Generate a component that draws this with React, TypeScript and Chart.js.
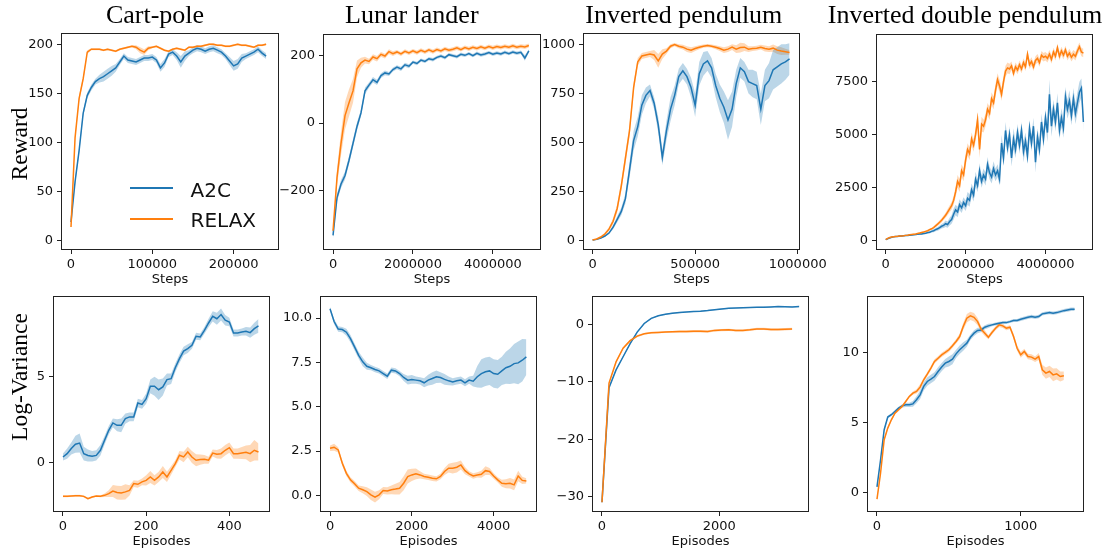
import React, { useEffect, useRef } from "react";
import { Chart, registerables } from "chart.js";

Chart.register(...registerables);

const BLUE = "#1f77b4";
const ORANGE = "#ff7f0e";
const BLUE_FILL = "rgba(31,119,180,0.3)";
const ORANGE_FILL = "rgba(255,127,14,0.3)";
const SANS = "'DejaVu Sans', sans-serif";
const SERIF = "'Liberation Serif', 'DejaVu Serif', serif";

const TITLES = ["Cart-pole", "Lunar lander", "Inverted pendulum", "Inverted double pendulum"];
const ROW_LABELS = ["Reward", "Log-Variance"];
const SERIES = ["A2C", "RELAX"];

// ---------- Cart-pole reward (x step 5000 steps)
const CART_R_DX = 5000;
const cartRewardA2C = [19,60,92,130,148,156,162,165,167,170,173,176,182,188,184,183,182,184,186,186,187,184,176,181,190,192,188,182,188,191,194,196,195,193,195,196,194,192,188,183,178,180,186,188,190,192,195,191,188];
const cartRewardA2CBand = [1,3,3,3,3,3,3,4,5,5,5,4,3,3,3,3,3,3,3,3,3,3,4,4,3,3,4,6,5,3,3,3,3,3,3,3,3,3,3,4,5,5,4,3,3,3,3,3,3];
const cartRewardRelax = [14,105,145,165,192,195,195,195,194,195,194,193,195,196,197,198,197,194,192,196,197,198,196,194,193,195,196,195,194,197,197,198,198,199,200,200,199,199,198,198,199,200,199,199,198,197,199,199,200];
const cartRewardRelaxBand = [1,3,3,3,2,1,1,1,1,1,1,1,1,1,1,1,2,3,3,2,1,1,1,1,1,1,1,1,1,1,1,1,1,1,1,1,1,1,1,1,1,1,1,1,1,1,1,1,1];

// ---------- Lunar lander reward (x step 100000 steps)
const LUNAR_R_DX = 100000;
const lunarRewardA2C = [-332,-220,-180,-155,-110,-60,-10,30,95,112,128,120,140,148,145,158,165,160,172,168,180,176,186,182,190,187,194,198,193,202,199,196,203,200,205,199,206,201,204,208,203,207,204,209,205,210,206,209,192,213];
const lunarRewardA2CBand = [8,12,12,12,12,12,12,10,10,8,8,8,7,7,6,6,6,6,6,6,5,5,5,5,5,5,5,5,5,5,5,5,5,5,5,5,5,5,5,5,5,5,5,5,5,5,5,5,8,5];
const lunarRewardRelax = [-318,-160,-60,22,60,95,160,178,186,182,195,190,203,198,211,205,210,204,212,207,213,208,215,210,216,211,217,213,219,215,218,222,217,223,219,224,220,225,221,226,222,226,223,227,224,228,224,227,225,229];
const lunarRewardRelaxBand = [5,25,35,40,40,35,25,15,10,8,8,8,7,7,7,7,6,6,6,6,6,6,6,6,6,6,6,6,6,6,6,6,6,6,6,6,6,6,6,6,6,6,6,6,6,6,6,6,6,6];

// ---------- Inverted pendulum reward (x step 20000 steps)
const PEND_R_DX = 20000;
const pendRewardA2C = [5,8,15,25,40,70,110,150,215,360,510,580,690,740,765,700,590,425,560,670,740,835,865,835,780,690,850,900,915,880,790,725,680,615,670,800,880,860,810,800,790,670,790,815,870,885,900,910,925];
const pendRewardA2CBand = [3,3,3,5,5,10,15,20,25,40,50,50,50,40,30,30,40,40,50,60,50,40,40,40,50,60,60,60,50,50,60,70,80,100,90,70,50,50,60,70,70,80,80,90,100,100,100,90,80];
const pendRewardRelax = [5,10,20,35,60,100,165,280,420,560,780,910,940,945,950,945,915,950,965,990,998,990,985,975,970,978,985,990,993,990,985,978,970,975,985,975,983,985,975,978,980,985,978,975,980,970,965,962,958];
const pendRewardRelaxBand = [3,3,5,8,10,15,20,25,30,30,25,20,15,15,15,25,35,25,15,10,8,10,12,15,15,12,10,8,8,8,10,12,15,15,15,20,25,20,15,12,12,12,15,15,18,20,20,15,12];

// ---------- Inverted double pendulum reward (x step 50000 steps)
const DPEND_R_DX = 50000;
const dpendRewardA2C = [50,90,130,160,180,195,200,215,220,230,240,245,255,265,275,285,300,310,320,335,350,380,400,440,470,520,560,620,680,720,800,760,900,1000,1250,1450,1350,1700,1550,1800,1650,2000,1900,2400,2150,2900,2600,3300,2800,3100,2900,3600,3200,3000,3400,3100,3300,2900,4600,3900,5200,4400,5000,3900,4800,4300,5100,4500,5200,4200,4700,4000,5300,4600,5400,3700,4900,4300,5600,4800,5800,5100,6900,5400,6200,5600,6500,5200,5800,5300,6800,6200,6600,5900,6700,6000,6500,7000,7200,5600];
const dpendRewardA2CBand = [20,20,20,20,20,20,25,25,25,25,30,30,30,30,30,35,35,40,40,40,50,50,60,60,70,80,90,100,110,120,150,150,180,200,250,250,250,250,250,250,250,300,300,300,300,350,300,350,300,300,300,350,300,300,350,300,300,300,400,400,400,400,400,400,500,400,400,400,400,500,400,400,400,400,400,500,400,400,400,450,400,450,700,500,450,450,450,400,450,450,450,450,500,450,500,500,500,500,450,450];
const dpendRewardRelax = [50,110,150,175,190,200,205,215,225,235,250,260,275,290,305,320,340,360,385,410,440,470,520,560,620,700,780,870,960,1080,1200,1350,1500,1650,1900,2300,2800,2600,3300,3100,3800,4300,4100,4800,4500,5000,5700,4300,5500,5400,5700,6200,6000,6700,6500,7100,7600,7300,6900,7500,8000,8150,8100,8250,7900,8200,8050,8300,8100,8400,8200,8800,8300,8450,8200,8500,8600,8400,8750,8650,8700,8600,8800,8550,8900,8700,9100,8700,8950,8750,9000,8700,8850,8650,8800,8700,8950,9150,8900,8850];
const dpendRewardRelaxBand = [20,20,20,20,20,20,25,25,25,25,30,30,30,30,30,35,35,40,40,40,45,45,50,55,60,70,80,90,100,110,120,140,160,180,200,250,300,300,300,300,300,300,300,300,300,300,350,400,350,300,300,300,300,300,300,300,300,300,300,300,250,250,250,200,200,200,200,200,200,200,200,200,200,200,200,200,200,200,200,200,200,200,200,200,200,200,200,200,200,200,200,200,200,200,200,200,200,200,200,200];

// ---------- Cart-pole log-variance (x step 10 episodes)
const CART_V_DX = 10;
const cartVarA2C = [0.31,0.5,0.8,1.05,1.12,0.5,0.4,0.35,0.4,0.7,1.28,1.86,2.29,2.15,2.15,2.54,2.64,2.64,3.45,3.37,3.7,4.42,4.42,4.22,4.38,4.81,4.86,5.5,6.03,6.47,6.61,6.8,7.33,7.29,7.67,8.1,8.49,8.35,8.59,8.26,8.16,7.52,7.52,7.58,7.62,7.54,7.77,7.93];
const cartVarA2CBand = [0.2,0.3,0.35,0.5,0.55,0.4,0.35,0.3,0.3,0.3,0.25,0.25,0.25,0.35,0.4,0.3,0.25,0.25,0.25,0.25,0.3,0.4,0.55,0.6,0.5,0.35,0.3,0.25,0.25,0.25,0.25,0.2,0.2,0.2,0.2,0.25,0.3,0.35,0.35,0.3,0.25,0.2,0.2,0.2,0.25,0.3,0.35,0.4];
const cartVarRelax = [-1.98,-1.98,-1.96,-1.94,-1.94,-1.98,-2.11,-2.02,-1.96,-1.98,-1.92,-1.82,-1.67,-1.76,-1.78,-1.72,-1.63,-1.24,-1.28,-1.14,-1.05,-0.85,-1.05,-0.85,-0.56,-0.85,-0.47,-0.08,0.41,0.31,0.6,0.31,0.12,0.16,0.17,0.12,0.54,0.47,0.5,0.7,0.85,0.5,0.5,0.54,0.58,0.5,0.7,0.6];
const cartVarRelaxBand = [0.05,0.05,0.05,0.05,0.05,0.05,0.05,0.05,0.05,0.05,0.1,0.2,0.35,0.4,0.4,0.45,0.3,0.2,0.2,0.2,0.3,0.35,0.3,0.3,0.35,0.3,0.25,0.2,0.25,0.3,0.3,0.35,0.35,0.3,0.25,0.2,0.2,0.25,0.3,0.3,0.3,0.3,0.3,0.35,0.4,0.5,0.6,0.5];

// ---------- Lunar lander log-variance (x step 100 episodes)
const LUNAR_V_DX = 100;
const lunarVarA2C = [10.52,9.8,9.38,9.35,9.2,8.84,8.37,7.9,7.53,7.28,7.2,7.1,7.02,6.87,6.72,7.06,7.02,6.87,6.65,6.5,6.54,6.5,6.46,6.35,6.5,6.59,6.69,6.65,6.54,6.46,6.4,6.46,6.5,6.35,6.5,6.44,6.69,6.87,6.97,7.02,6.87,6.83,7.02,7.2,7.28,7.43,7.47,7.62,7.81];
const lunarVarA2CBand = [0.1,0.15,0.15,0.15,0.2,0.2,0.2,0.2,0.25,0.2,0.15,0.15,0.15,0.15,0.15,0.15,0.15,0.15,0.2,0.25,0.25,0.2,0.2,0.25,0.3,0.35,0.35,0.3,0.3,0.25,0.2,0.2,0.2,0.2,0.2,0.3,0.6,0.8,0.8,0.8,0.8,0.8,0.8,0.9,1.0,1.1,1.2,1.2,1.0];
const lunarVarRelax = [2.66,2.72,2.57,1.82,1.25,0.88,0.66,0.41,0.32,0.22,0.04,-0.09,0.04,0.28,0.26,0.32,0.36,0.41,0.69,1.07,1.16,1.22,1.16,1.07,1.03,0.97,0.94,1.07,1.35,1.54,1.54,1.59,1.72,1.4,1.22,1.1,1.16,1.2,1.4,1.35,1.1,0.88,0.69,0.66,0.69,0.6,1.1,0.85,0.82];
const lunarVarRelaxBand = [0.15,0.2,0.15,0.15,0.15,0.15,0.15,0.15,0.2,0.25,0.3,0.3,0.25,0.2,0.2,0.25,0.3,0.35,0.4,0.4,0.35,0.3,0.2,0.15,0.15,0.15,0.15,0.15,0.2,0.25,0.3,0.3,0.25,0.2,0.15,0.15,0.15,0.2,0.25,0.2,0.15,0.15,0.2,0.25,0.3,0.3,0.3,0.2,0.15];

// ---------- Inverted pendulum log-variance (x step 120 episodes)
const PEND_V_DX = 120;
const pendVarA2C = [-31,-11,-7.9,-5.6,-3.3,-1.3,0.2,1.1,1.55,1.8,2.0,2.1,2.2,2.3,2.35,2.45,2.6,2.75,2.85,2.9,2.95,3.0,3.02,3.05,3.1,3.15,3.12,3.1,3.15];
const pendVarA2CBand = [0.1,0.15,0.15,0.15,0.15,0.15,0.15,0.12,0.1,0.1,0.1,0.1,0.1,0.1,0.1,0.1,0.1,0.1,0.1,0.1,0.1,0.1,0.1,0.1,0.1,0.1,0.1,0.1,0.1];
const pendVarRelax = [-31,-10.2,-6.5,-4.1,-2.8,-2.0,-1.6,-1.4,-1.35,-1.3,-1.25,-1.2,-1.2,-1.15,-1.15,-1.2,-1.0,-0.95,-0.9,-1.0,-1.0,-0.9,-0.75,-0.75,-0.85,-0.85,-0.8,-0.75];
const pendVarRelaxBand = [0.15,0.2,0.2,0.2,0.2,0.2,0.15,0.15,0.15,0.15,0.15,0.2,0.2,0.2,0.2,0.2,0.2,0.2,0.2,0.2,0.2,0.2,0.2,0.2,0.2,0.2,0.2,0.2];

// ---------- Inverted double pendulum log-variance (x step 25 episodes)
const DPEND_V_DX = 25;
const dpendVarA2C = [0.43,2.36,4.49,5.39,5.56,5.79,6.03,6.19,6.26,6.26,6.33,6.62,6.97,7.57,7.92,8.09,8.27,8.63,8.94,9.22,9.34,9.5,9.88,10.17,10.4,10.64,11.06,11.35,11.54,11.58,11.77,11.87,11.94,12.0,12.06,12.1,12.1,12.17,12.25,12.25,12.34,12.41,12.48,12.53,12.48,12.53,12.72,12.77,12.81,12.77,12.81,12.88,12.95,13.0,13.05,13.05];
const dpendVarA2CBand = [0.1,0.1,0.1,0.1,0.1,0.1,0.1,0.12,0.15,0.15,0.2,0.25,0.3,0.3,0.3,0.3,0.3,0.3,0.3,0.3,0.35,0.35,0.3,0.3,0.3,0.25,0.2,0.2,0.2,0.15,0.15,0.15,0.1,0.1,0.1,0.1,0.1,0.1,0.1,0.1,0.12,0.12,0.12,0.12,0.12,0.12,0.12,0.12,0.12,0.12,0.12,0.12,0.12,0.12,0.12,0.12];
const dpendVarRelax = [-0.43,1.42,3.78,4.61,5.2,5.67,5.91,6.15,6.5,6.86,7.09,7.21,7.52,8.04,8.44,8.87,9.34,9.57,9.81,9.98,10.17,10.45,10.76,11.11,11.82,12.41,12.58,12.48,12.17,11.63,11.35,11.06,11.4,11.7,11.94,11.87,11.7,11.77,11.11,10.28,9.81,10.05,9.69,9.65,9.5,9.69,8.75,8.51,8.63,8.39,8.46,8.27,8.32];
const dpendVarRelaxBand = [0.1,0.1,0.1,0.1,0.1,0.1,0.1,0.1,0.1,0.1,0.12,0.15,0.2,0.15,0.15,0.15,0.15,0.15,0.15,0.15,0.15,0.15,0.15,0.2,0.25,0.3,0.3,0.3,0.25,0.2,0.2,0.15,0.15,0.15,0.15,0.15,0.15,0.15,0.2,0.2,0.2,0.2,0.2,0.2,0.2,0.25,0.35,0.4,0.4,0.45,0.4,0.35,0.3];

// ---------- tick values
const xTicksCartR = [0, 100000, 200000];
const xTicksLunarR = [0, 2000000, 4000000];
const xTicksPendR = [0, 500000, 1000000];
const xTicksDpendR = [0, 2000000, 4000000];
const yTicksCartR = [0, 50, 100, 150, 200];
const yTicksLunarR = [-200, 0, 200];
const yTicksPendR = [0, 250, 500, 750, 1000];
const yTicksDpendR = [0, 2500, 5000, 7500];
const xTicksCartV = [0, 200, 400];
const xTicksLunarV = [0, 2000, 4000];
const xTicksPendV = [0, 2000];
const xTicksDpendV = [0, 1000];
const yTicksCartV = [0, 5];
const yTicksLunarV = [0, 2.5, 5, 7.5, 10];
const yTicksPendV = [-30, -20, -10, 0];
const yTicksDpendV = [0, 5, 10];

type Panel = {
  box: [number, number, number, number];
  xr: [number, number];
  yr: [number, number];
  xt: number[];
  yt: number[];
  yDec: number;
  xlab: string;
  dx: number;
  a: number[];
  ab: number[];
  r: number[];
  rb: number[];
};

const PANELS: Panel[] = [
  { box: [61, 33, 279, 250], xr: [-12300, 255800], yr: [-9.5, 211.5], xt: xTicksCartR, yt: yTicksCartR, yDec: 0, xlab: "Steps", dx: CART_R_DX, a: cartRewardA2C, ab: cartRewardA2CBand, r: cartRewardRelax, rb: cartRewardRelaxBand },
  { box: [323, 34, 541, 250], xr: [-251000, 5204000], yr: [-375, 263], xt: xTicksLunarR, yt: yTicksLunarR, yDec: 0, xlab: "Steps", dx: LUNAR_R_DX, a: lunarRewardA2C, ab: lunarRewardA2CBand, r: lunarRewardRelax, rb: lunarRewardRelaxBand },
  { box: [583, 33, 800, 250], xr: [-46700, 1011000], yr: [-46, 1057], xt: xTicksPendR, yt: yTicksPendR, yDec: 0, xlab: "Steps", dx: PEND_R_DX, a: pendRewardA2C, ab: pendRewardA2CBand, r: pendRewardRelax, rb: pendRewardRelaxBand },
  { box: [876, 34, 1093, 250], xr: [-243000, 5190000], yr: [-440, 9749], xt: xTicksDpendR, yt: yTicksDpendR, yDec: 0, xlab: "Steps", dx: DPEND_R_DX, a: dpendRewardA2C, ab: dpendRewardA2CBand, r: dpendRewardRelax, rb: dpendRewardRelaxBand },
  { box: [53, 296, 270, 512], xr: [-24, 497.7], yr: [-2.89, 9.67], xt: xTicksCartV, yt: yTicksCartV, yDec: 0, xlab: "Episodes", dx: CART_V_DX, a: cartVarA2C, ab: cartVarA2CBand, r: cartVarRelax, rb: cartVarRelaxBand },
  { box: [320, 296, 537, 512], xr: [-245, 5060], yr: [-0.93, 11.24], xt: xTicksLunarV, yt: yTicksLunarV, yDec: 1, xlab: "Episodes", dx: LUNAR_V_DX, a: lunarVarA2C, ab: lunarVarA2CBand, r: lunarVarRelax, rb: lunarVarRelaxBand },
  { box: [592, 296, 809, 512], xr: [-170, 3528], yr: [-32.7, 5.0], xt: xTicksPendV, yt: yTicksPendV, yDec: 0, xlab: "Episodes", dx: PEND_V_DX, a: pendVarA2C, ab: pendVarA2CBand, r: pendVarRelax, rb: pendVarRelaxBand },
  { box: [867, 296, 1084, 512], xr: [-69.4, 1440], yr: [-1.35, 13.99], xt: xTicksDpendV, yt: yTicksDpendV, yDec: 0, xlab: "Episodes", dx: DPEND_V_DX, a: dpendVarA2C, ab: dpendVarA2CBand, r: dpendVarRelax, rb: dpendVarRelaxBand },
];

const TITLE_CX = [155, 411.8, 683.8, 965];
const ROW_LABEL_CY = [143.5, 376.7];

// canvas margins around each axes box
const ML = 70, MT = 14, MR = 40, MB = 50;

const fmt = (v: number, dec: number) => {
  const s = Math.abs(v).toFixed(dec);
  return v < 0 ? "\u2212" + s : s;
};

const pts = (dx: number, ys: number[], band?: number[], sign = 0) =>
  ys.map((v, i) => ({ x: i * dx, y: band ? v + sign * band[i] : v }));

const framePlugin = {
  id: "frame",
  afterDatasetsDraw(chart: any) {
    const { ctx, chartArea } = chart;
    const { left, top, right, bottom } = chartArea;
    ctx.save();
    ctx.strokeStyle = "#222";
    ctx.lineWidth = 1;
    ctx.strokeRect(left + 0.5, top + 0.5, right - left - 1, bottom - top - 1);
    ctx.restore();
  },
};

function makeConfig(p: Panel): any {
  const bandDs = (data: any[], fill: any, bg: string) => ({
    data,
    borderWidth: 0,
    borderColor: "rgba(0,0,0,0)",
    backgroundColor: bg,
    pointRadius: 0,
    fill,
    order: 5,
  });
  const tickFont = { family: SANS, size: 13 };
  return {
    type: "line",
    data: {
      datasets: [
        bandDs(pts(p.dx, p.a, p.ab, -1), false, BLUE_FILL),
        bandDs(pts(p.dx, p.a, p.ab, 1), "-1", BLUE_FILL),
        bandDs(pts(p.dx, p.r, p.rb, -1), false, ORANGE_FILL),
        bandDs(pts(p.dx, p.r, p.rb, 1), "-1", ORANGE_FILL),
        { label: SERIES[0], data: pts(p.dx, p.a), borderColor: BLUE, borderWidth: 1.5, pointRadius: 0, fill: false, order: 2 },
        { label: SERIES[1], data: pts(p.dx, p.r), borderColor: ORANGE, borderWidth: 1.5, pointRadius: 0, fill: false, order: 1 },
      ],
    },
    options: {
      responsive: false,
      animation: false,
      devicePixelRatio: 1,
      layout: { padding: { left: 0, top: MT, right: MR, bottom: 0 } },
      elements: { line: { tension: 0 }, point: { radius: 0 } },
      plugins: {
        legend: { display: false },
        tooltip: { enabled: false },
        filler: { drawTime: "beforeDatasetsDraw" },
      },
      scales: {
        x: {
          type: "linear",
          bounds: "data",
          min: p.xr[0],
          max: p.xr[1],
          afterBuildTicks: (s: any) => {
            s.ticks = p.xt.map((v) => ({ value: v }));
          },
          afterFit: (s: any) => {
            s.height = MB;
          },
          grid: { drawOnChartArea: false, drawTicks: true, tickLength: 4, tickColor: "#222", tickWidth: 1 },
          border: { display: false },
          ticks: { autoSkip: false, maxRotation: 0, padding: 3, color: "#111", font: tickFont, callback: (v: any) => fmt(Number(v), 0) },
          title: { display: true, text: p.xlab, color: "#111", font: tickFont, padding: { top: 0, bottom: 12.5 } },
        },
        y: {
          type: "linear",
          bounds: "data",
          min: p.yr[0],
          max: p.yr[1],
          afterBuildTicks: (s: any) => {
            s.ticks = p.yt.map((v) => ({ value: v }));
          },
          afterFit: (s: any) => {
            s.width = ML;
          },
          grid: { drawOnChartArea: false, drawTicks: true, tickLength: 4, tickColor: "#222", tickWidth: 1 },
          border: { display: false },
          ticks: { autoSkip: false, padding: 4, color: "#111", font: tickFont, callback: (v: any) => fmt(Number(v), p.yDec) },
        },
      },
    },
    plugins: [framePlugin],
  };
}

export default function App() {
  const refs = useRef<(HTMLCanvasElement | null)[]>([]);

  useEffect(() => {
    const charts = PANELS.map((p, i) => new Chart(refs.current[i] as HTMLCanvasElement, makeConfig(p)));
    return () => charts.forEach((c) => c.destroy());
  }, []);

  return (
    <div style={{ position: "fixed", left: 0, top: 0, width: 1110, height: 552, overflow: "hidden", background: "#fff" }}>
      {PANELS.map((p, i) => {
        const [l, t, r, b] = p.box;
        const w = ML + (r - l) + MR;
        const h = MT + (b - t) + MB;
        return (
          <canvas
            key={i}
            ref={(el) => {
              refs.current[i] = el;
            }}
            width={w}
            height={h}
            style={{ position: "absolute", left: l - ML, top: t - MT, width: w, height: h }}
          />
        );
      })}
      {TITLES.map((t, i) => (
        <div
          key={"t" + i}
          style={{ position: "absolute", left: TITLE_CX[i] - 200, width: 400, top: 2.2, textAlign: "center", fontFamily: SERIF, fontSize: 26, lineHeight: "26px", color: "#000", whiteSpace: "nowrap" }}
        >
          {t}
        </div>
      ))}
      {ROW_LABELS.map((t, i) => (
        <div
          key={"r" + i}
          style={{ position: "absolute", left: 19 - 100, top: ROW_LABEL_CY[i] - 12, width: 200, height: 24, textAlign: "center", fontFamily: SERIF, fontSize: 23.5, lineHeight: "24px", color: "#000", whiteSpace: "nowrap", transform: "rotate(-90deg)" }}
        >
          {t}
        </div>
      ))}
      {SERIES.map((s, i) => (
        <React.Fragment key={"l" + i}>
          <div style={{ position: "absolute", left: 130, top: 186.5 + i * 31, width: 43, height: 2, background: i === 0 ? BLUE : ORANGE }} />
          <div style={{ position: "absolute", left: 190.5, top: 179.8 + i * 30.6, fontFamily: SANS, fontSize: 20, lineHeight: "20px", color: "#111", whiteSpace: "nowrap" }}>
            {s}
          </div>
        </React.Fragment>
      ))}
    </div>
  );
}
